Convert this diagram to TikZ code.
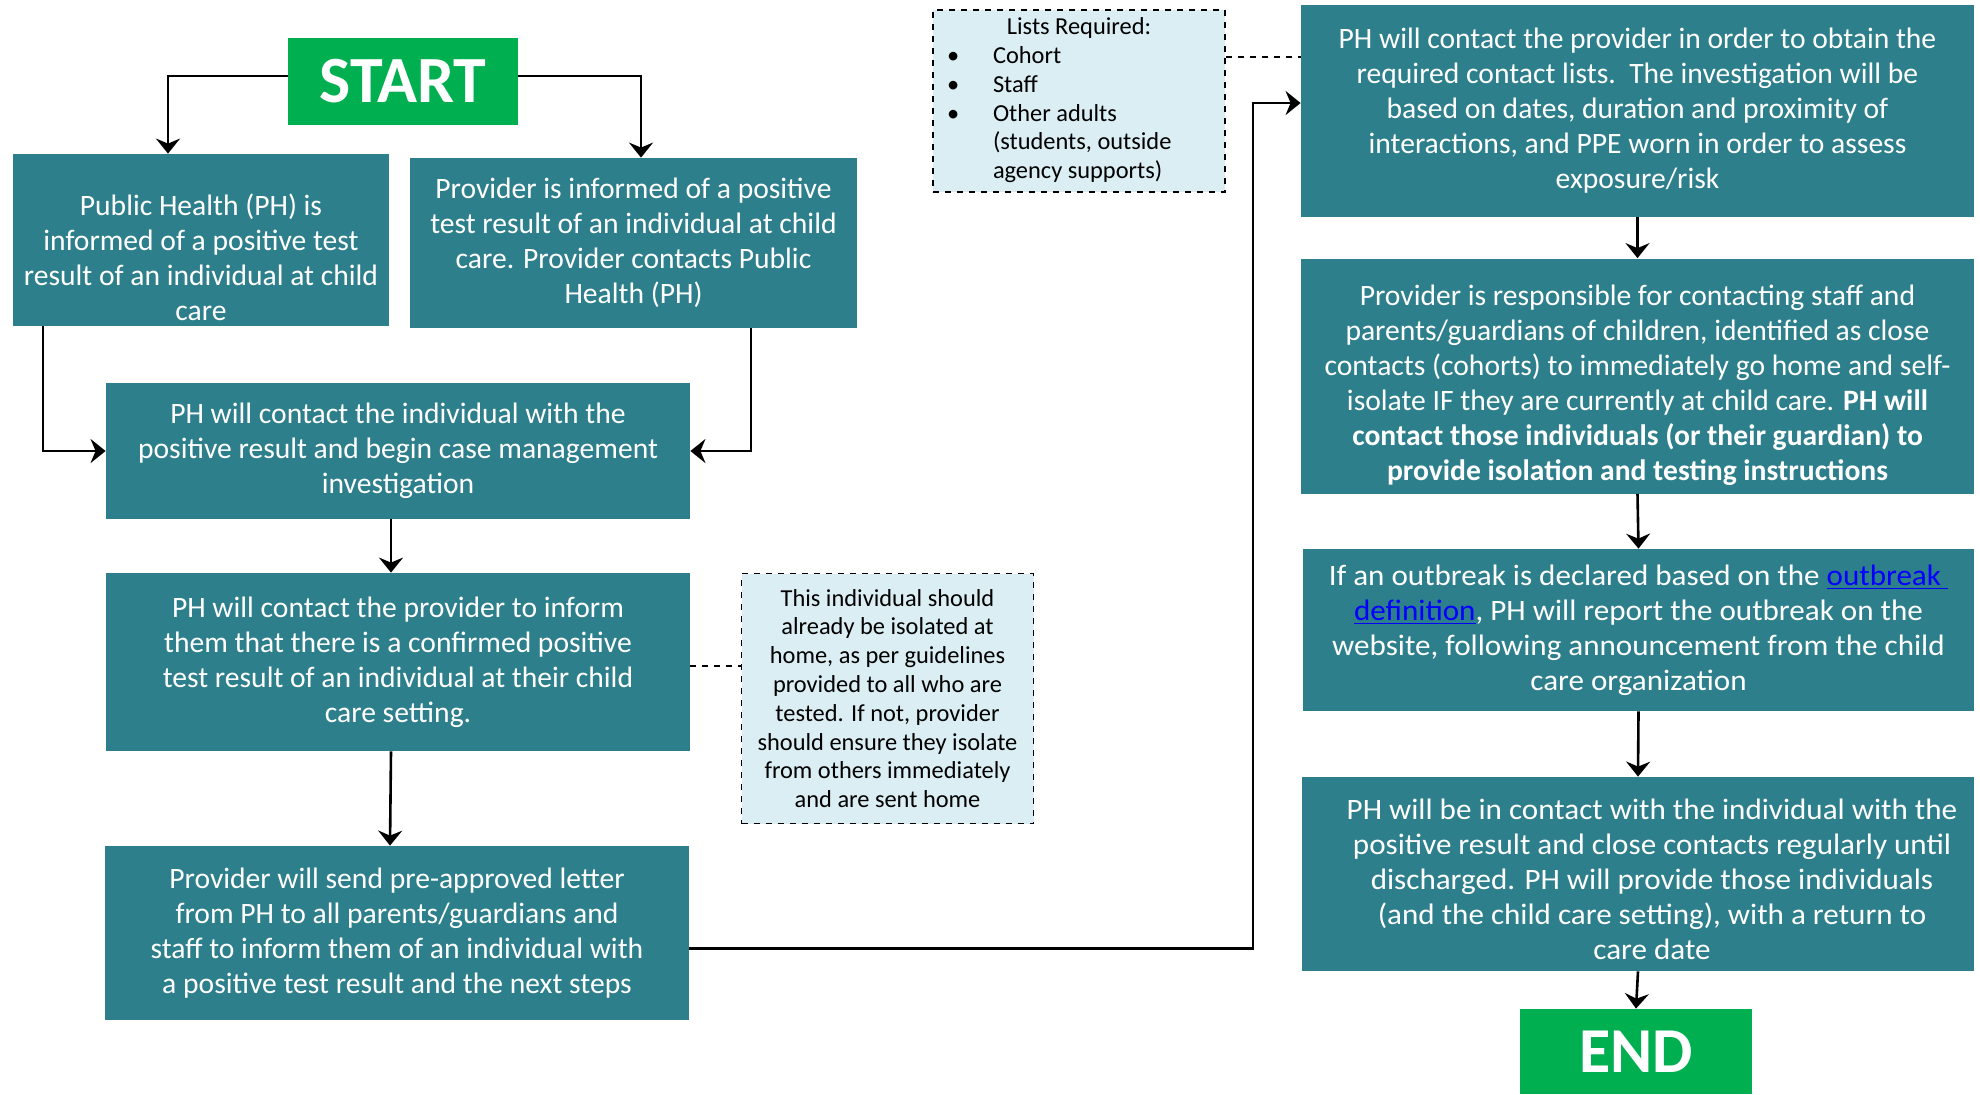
\documentclass[tikz,border=0pt]{standalone}
\usepackage{fontspec}
\setmainfont{Carlito}
\newfontfamily\widefont[FakeStretch=1.05]{Carlito}
\usetikzlibrary{arrows.meta}
\definecolor{tealbox}{RGB}{46,127,140}
\definecolor{startgreen}{RGB}{0,176,80}
\definecolor{notefill}{RGB}{218,238,243}
\definecolor{linkblue}{RGB}{0,0,255}
\newcommand{\boxfont}{\fontsize{14.8pt}{17.5pt}\selectfont}
\newcommand{\notefont}{\fontsize{12.2pt}{14.4pt}\selectfont}
\begin{document}
\begin{tikzpicture}[x=0.5pt,y=-0.5pt,
    stepbox/.style={fill=tealbox,text=white,inner sep=0pt,align=center,font=\boxfont},
    boxtext/.style={text=white,inner sep=0pt,align=center,font=\boxfont},
    termbox/.style={fill=startgreen,text=white,inner sep=0pt},
    notebox/.style={fill=notefill,draw=black,dashed,line width=0.8pt,inner sep=0pt,align=center,font=\notefont},
    arr/.style={-{Stealth[length=7.5pt,width=12pt,inset=2.5pt]},line width=1.3pt},
    dashline/.style={dashed,line width=0.8pt}]
  \useasboundingbox (0,0) rectangle (1980,1094);
  \node[termbox,minimum width=115pt,minimum height=43.5pt,font=\fontsize{33pt}{38pt}\selectfont\bfseries] (start) at (403,81.5) {START};
  \node[stepbox,minimum width=188pt,minimum height=86pt,
    label={[boxtext,yshift=-8.8pt]center:{Public Health (PH) is\\informed of a positive test\\result of an individual at child\\care}}] (pha) at (201,240) {};
  \node[stepbox,minimum width=223.5pt,minimum height=85pt] (phb) at (633.5,243)
    {Provider is informed of a positive\\test result of an individual at child\\care. Provider contacts Public\\Health (PH)};
  \node[stepbox,minimum width=292pt,minimum height=68pt] (phc) at (398,451)
    {PH will contact the individual with the\\positive result and begin case management\\investigation};
  \node[stepbox,minimum width=292pt,minimum height=89pt] (phd) at (398,662)
    {PH will contact the provider to inform\\them that there is a confirmed positive\\test result of an individual at their child\\care setting.};
  \node[stepbox,minimum width=292pt,minimum height=87pt] (phe) at (397,933)
    {Provider will send pre-approved letter\\from PH to all parents/guardians and\\staff to inform them of an individual with\\a positive test result and the next steps};
  \node[notebox,minimum width=146pt,minimum height=125pt] (note1) at (887.5,698.5)
    {This individual should\\already be isolated at\\home, as per guidelines\\provided to all who are\\tested. If not, provider\\should ensure they isolate\\from others immediately\\and are sent home};
  \node[notebox,minimum width=146pt,minimum height=91pt] (note2) at (1079,101)
    {\begin{tabular}{@{}p{23pt}@{}p{109pt}@{}}
      \multicolumn{2}{c}{Lists Required:}\\
      \textbullet & Cohort\\
      \textbullet & Staff\\
      \textbullet & Other adults\\
      & (students, outside\\
      & agency supports)
    \end{tabular}};
  \node[stepbox,minimum width=336.5pt,minimum height=106pt] (phf) at (1637.5,111)
    {PH will contact the provider in order to obtain the\\required contact lists.\ \ The investigation will be\\based on dates, duration and proximity of\\interactions, and PPE worn in order to assess\\exposure/risk};
  \node[stepbox,minimum width=336.5pt,minimum height=117.5pt,
    label={[boxtext,yshift=-4.5pt]center:{Provider is responsible for contacting staff and\\parents/guardians of children, identified as close\\contacts (cohorts) to immediately go home and self-\\isolate IF they are currently at child care. \textbf{PH will}\\\textbf{contact those individuals (or their guardian) to}\\\textbf{provide isolation and testing instructions}}}] (phg) at (1637.5,376) {};
  \node[stepbox,minimum width=335.5pt,minimum height=81pt,font=\boxfont\widefont] (phh) at (1638.5,630)
    {If an outbreak is declared based on the \textcolor{linkblue}{\underline{outbreak\ }}\\\textcolor{linkblue}{\underline{definition}}, PH will report the outbreak on the\\website, following announcement from the child\\care organization};
  \node[stepbox,minimum width=336pt,minimum height=97pt,
    label={[boxtext,font=\boxfont\widefont,xshift=7pt,yshift=-2.5pt]center:{PH will be in contact with the individual with the\\positive result and close contacts regularly until\\discharged. PH will provide those individuals\\(and the child care setting), with a return to\\care date}}] (phi) at (1638,874) {};
  \node[termbox,minimum width=116pt,minimum height=42.5pt,font=\fontsize{32pt}{37pt}\selectfont\bfseries] (end) at (1636,1051.5) {END};
  \coordinate (ka) at (168,76);
  \coordinate (kb) at (641,76);
  \coordinate (kc) at (43,451);
  \coordinate (kd) at (751,451);
  \coordinate (ke) at (1253,103);
  \begin{scope}[arr]
    \draw (start.west |- ka) -| (ka |- pha.north);
    \draw (start.east |- kb) -| (kb |- phb.north);
    \draw (kc |- pha.south) |- (phc.west);
    \draw (kd |- phb.south) |- (phc.east);
    \draw ([xshift=-3.5pt]phc.south) -- ([xshift=-3.5pt]phd.north);
    \draw ([xshift=-3.5pt]phd.south) -- ([xshift=-3.5pt]phe.north);
    \draw ([yshift=-7.75pt]phe.east) -| (ke) -- (ke -| phf.west);
    \draw (phf.south) -- (phg.north);
    \draw (phg.south) -- (phh.north);
    \draw (phh.south) -- (phi.north);
    \draw (phi.south) -- (end.north);
  \end{scope}
  \draw[dashline] ([yshift=-2pt]phd.east) -- ([yshift=-2pt]phd.east -| note1.west);
  \draw[dashline] ([yshift=22pt]note2.east) -- ([yshift=22pt]note2.east -| phf.west);
\end{tikzpicture}
\end{document}
